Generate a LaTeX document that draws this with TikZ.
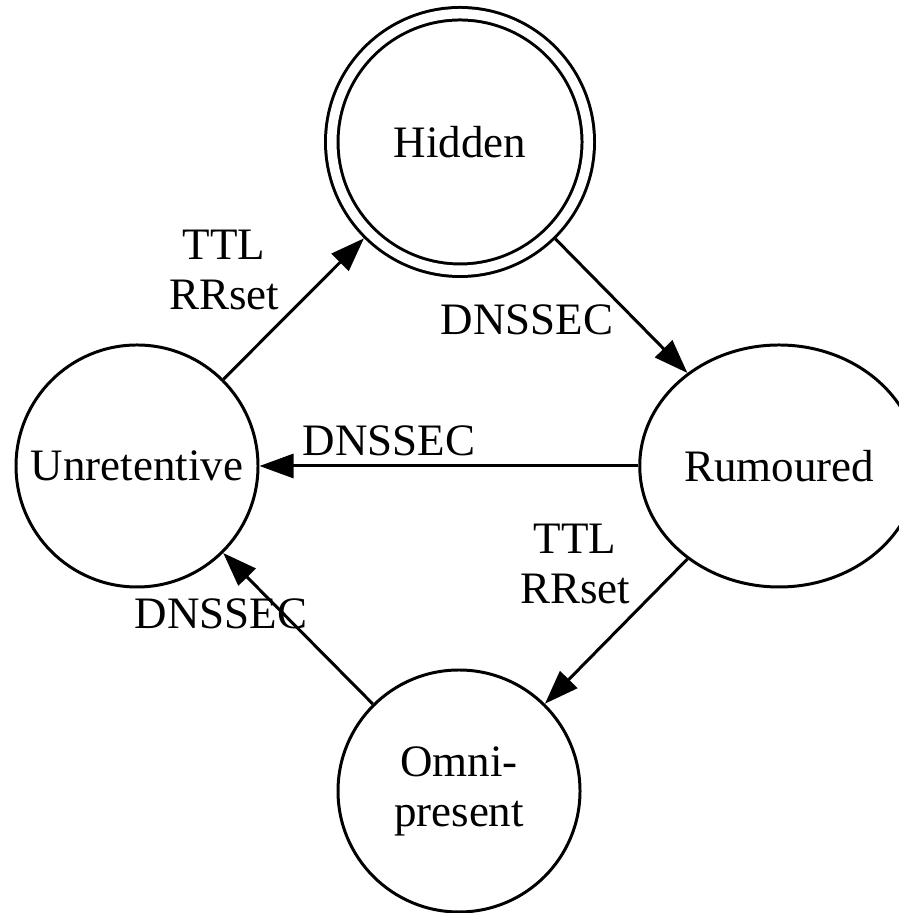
\documentclass[tikz,border=0pt]{standalone}
\usepackage{fontspec}
\setmainfont{Liberation Serif}
\usetikzlibrary{arrows.meta,shapes.geometric}
\newcommand{\edgew}{0.85pt}
\newcommand{\statesize}{2.42cm}

\tikzset{
  state/.style={circle, draw, line width=\edgew, minimum size=\statesize, inner sep=1pt, align=center},
  final/.style={state, double, double distance=0.95mm, minimum size=2.565cm, outer sep=0.78mm},
  lbl/.style={align=center, inner sep=0pt},
  trans/.style={-{Triangle[length=3.4mm,width=2.4mm]}, line width=\edgew},
}

\begin{document}
\begin{tikzpicture}[font=\fontsize{12.8}{14.2}\selectfont]
        %\draw[help lines] (0,0) grid (9,9);
        \useasboundingbox (0,0) rectangle (8.98,9.13);
        % states
        \node[final] (hidden) at (4.60,7.71) {Hidden};
        \node[state] (unret) at (1.37,4.47) {Unretentive};
        \node[state, ellipse, minimum width=2.32cm, minimum height=2.42cm] (rumour) at (7.79,4.47) {Rumoured};
        \node[state] (omni) at (4.59,1.22) {Omni-\\present};
        % transitions
        \draw[trans] (unret) -- (hidden);
        \draw[trans] (hidden) -- (rumour);
        \draw[trans] (rumour) -- (unret);
        \draw[trans] (rumour) -- (omni);
        \draw[trans] (omni) -- (unret);
        % labels
        \node[lbl] (l-uh) at (2.24,6.43) {TTL\\RRset};
        \node[lbl] (l-hr) at (5.27,5.93) {DNSSEC};
        \node[lbl] (l-ru) at (3.89,4.72) {DNSSEC};
        \node[lbl] (l-ro) at (5.75,3.49) {TTL\\RRset};
        \node[lbl] (l-ou) at (2.21,2.99) {DNSSEC};
\end{tikzpicture}
\end{document}
